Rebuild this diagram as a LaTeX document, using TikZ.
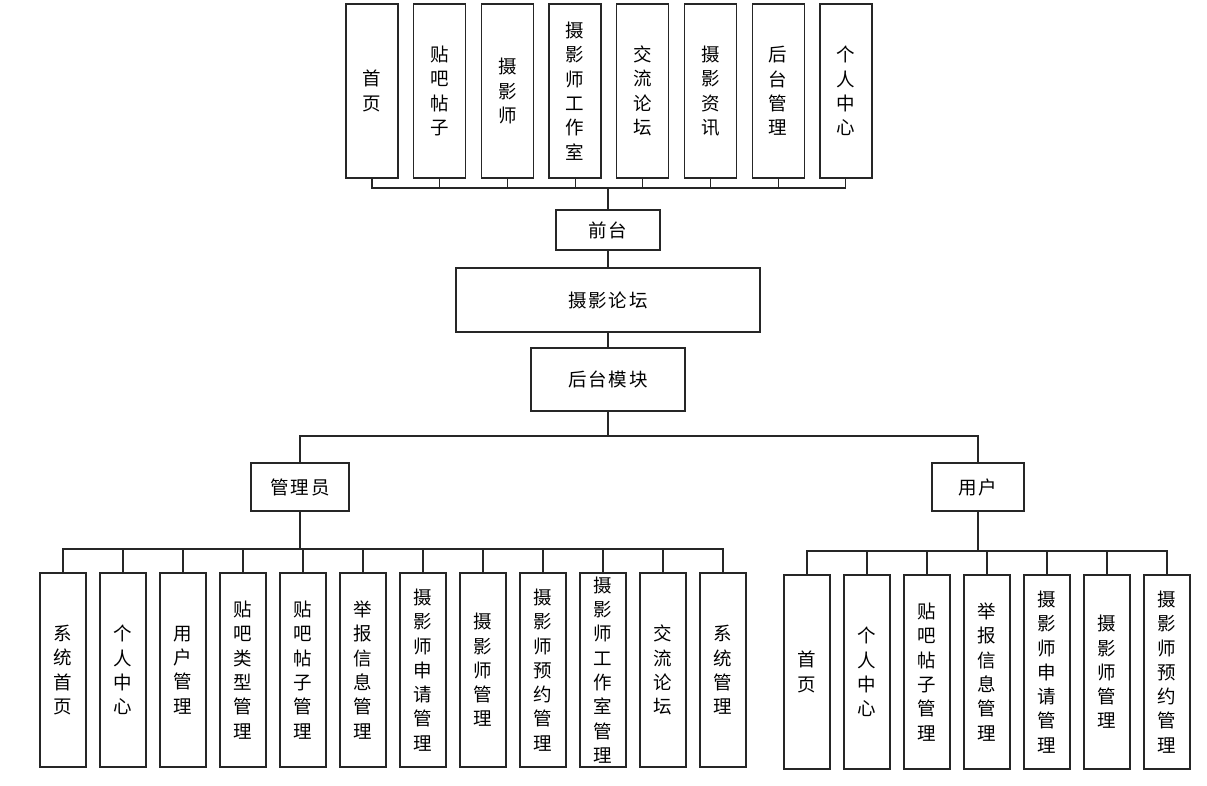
\documentclass[tikz,border=0pt]{standalone}
\usepackage{fontspec}
\newfontfamily\cjk{Noto Sans CJK SC}
\newfontfamily\cjkls[LetterSpace=10]{Noto Sans CJK SC}
\begin{document}
\begin{tikzpicture}[x=1pt,y=-1pt,
  box/.style={draw=black!85,line width=1.3pt,fill=white,inner sep=0pt,align=center,
    font=\cjk\fontsize{18.5}{24.3}\selectfont},
  vbox/.style={box,minimum width=#1,minimum height=194},
  hbox/.style={box,font=\cjkls\fontsize{18.5}{24}\selectfont},
  conn/.style={draw=black!85,line width=1.1pt},
  trunk/.style={draw=black!85,line width=2pt}]
\useasboundingbox (0,0) rectangle (1207,785);
% top row
\foreach \t [count=\i from 0] in {首\\页,贴\\吧\\帖\\子,摄\\影\\师,摄\\影\\师\\工\\作\\室,交\\流\\论\\坛,摄\\影\\资\\讯,后\\台\\管\\理,个\\人\\中\\心}{
  \node[box,minimum width=52,minimum height=174] (t\i) at ({372+67.7*\i},91) {\t};
}
\coordinate (tbus) at (608,188);
\foreach \i in {0,...,7}{ \draw[conn] (t\i.south) |- (tbus); }
\node[hbox,minimum width=104,minimum height=40] (qt) at (608,230) {前台};
\draw[trunk] (tbus) -- (qt.north);
\node[hbox,minimum width=304,minimum height=64] (lt) at (608,300) {摄影论坛};
\draw[conn] (qt.south) -- (lt.north);
\node[hbox,minimum width=154,minimum height=63] (hm) at (608,379.5) {后台模块};
\draw[conn] (lt.south) -- (hm.north);
\node[hbox,minimum width=98,minimum height=48] (gly) at (300,487) {管理员};
\node[hbox,minimum width=92,minimum height=48] (yh) at (978,487) {用户};
\coordinate (split) at (608,436);
\draw[conn] (hm.south) -- (split) -| (gly.north);
\draw[conn] (split) -| (yh.north);
% admin children
\foreach \t [count=\i from 0] in {系\\统\\首\\页,个\\人\\中\\心,用\\户\\管\\理,贴\\吧\\类\\型\\管\\理,贴\\吧\\帖\\子\\管\\理,举\\报\\信\\息\\管\\理,摄\\影\\师\\申\\请\\管\\理,摄\\影\\师\\管\\理,摄\\影\\师\\预\\约\\管\\理,摄\\影\\师\\工\\作\\室\\管\\理,交\\流\\论\\坛,系\\统\\管\\理}{
  \node[vbox=46] (a\i) at ({63+60*\i},670) {\t};
}
\coordinate (abus) at (300,549);
\foreach \i in {0,...,11}{ \draw[conn] (a\i.north) |- (abus); }
\draw[trunk] (gly.south) -- (abus);
% user children
\foreach \t [count=\i from 0] in {首\\页,个\\人\\中\\心,贴\\吧\\帖\\子\\管\\理,举\\报\\信\\息\\管\\理,摄\\影\\师\\申\\请\\管\\理,摄\\影\\师\\管\\理,摄\\影\\师\\预\\约\\管\\理}{
  \node[vbox=46] (u\i) at ({807+60*\i},672) {\t};
}
\coordinate (ubus) at (978,551);
\foreach \i in {0,...,6}{ \draw[conn] (u\i.north) |- (ubus); }
\draw[trunk] (yh.south) -- (ubus);
\end{tikzpicture}
\end{document}
